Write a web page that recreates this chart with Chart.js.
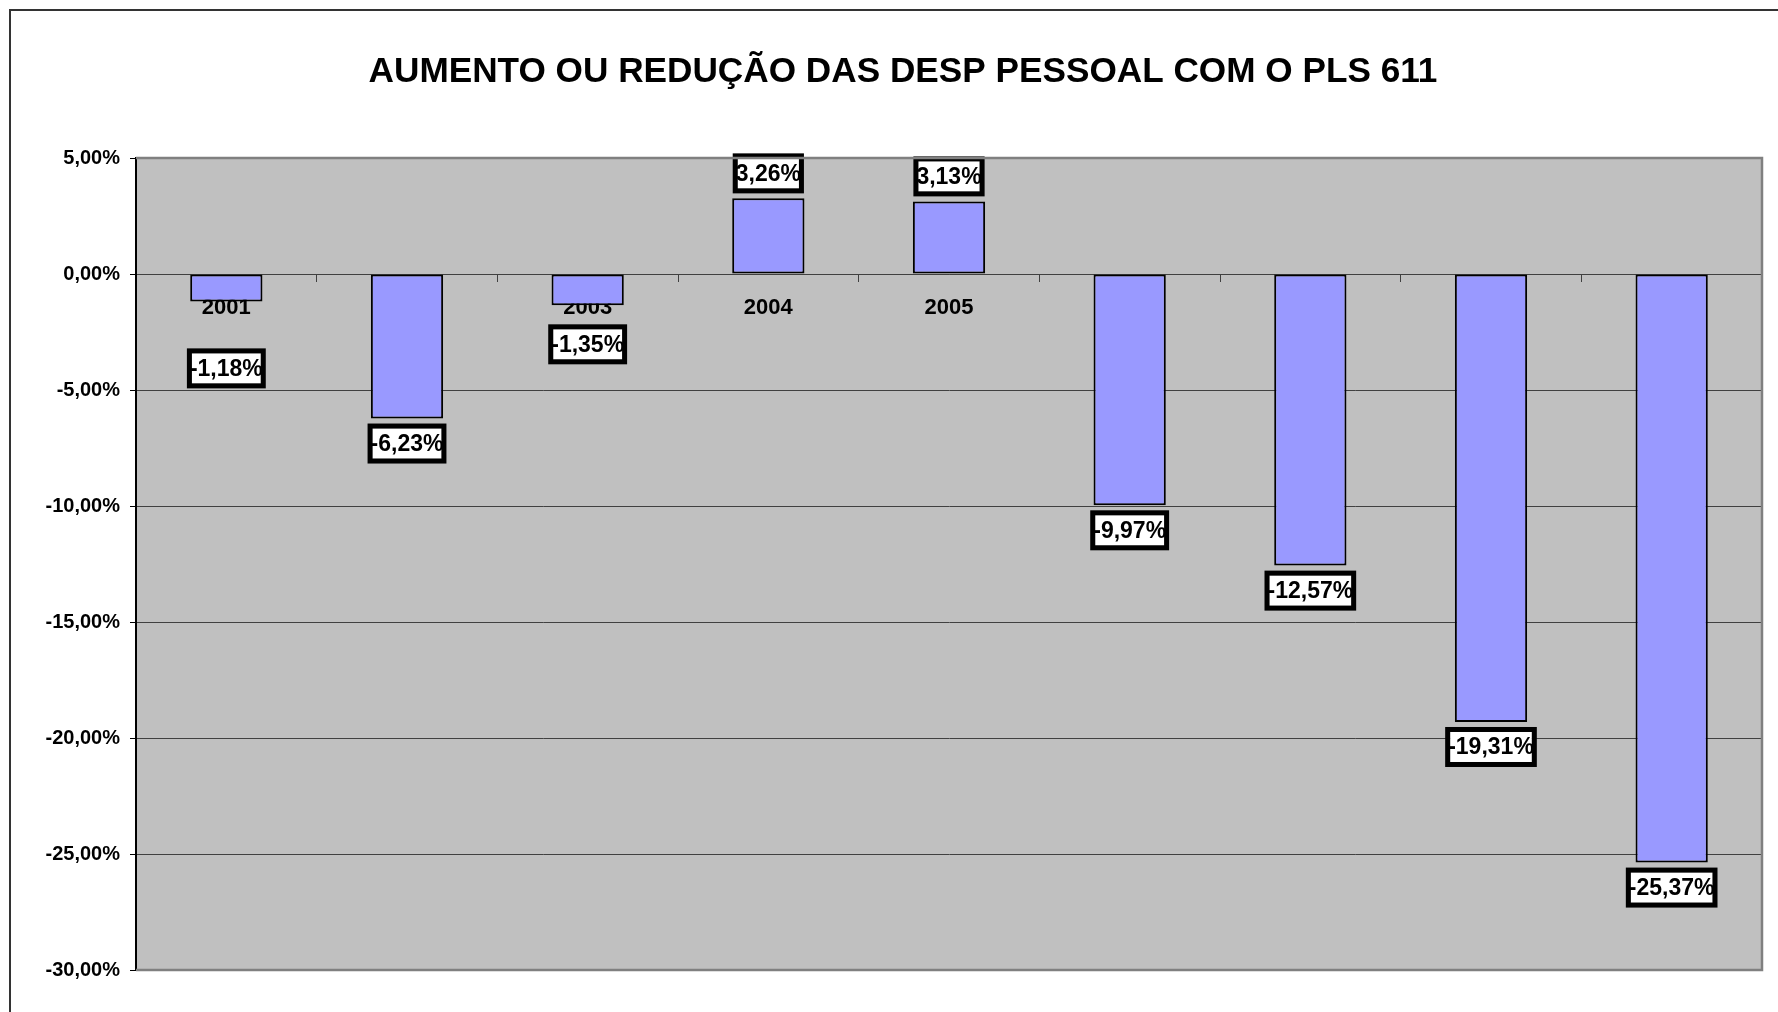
<!DOCTYPE html>
<html>
<head>
<meta charset="utf-8">
<script src="https://cdn.jsdelivr.net/npm/chart.js@4.4.1/dist/chart.umd.min.js"></script>
<style>
  html, body { margin: 0; padding: 0; background: #fff; }
</style>
</head>
<body>
<canvas id="barChart" width="1778" height="1012"></canvas>
<script>
const years = ["2001", "2002", "2003", "2004", "2005", "2006", "2007", "2008", "2009"];
const changes = [-1.18, -6.23, -1.35, 3.26, 3.13, -9.97, -12.57, -19.31, -25.37];
const yTicks = [5, 0, -5, -10, -15, -20, -25, -30];
const titleText = "AUMENTO OU REDUÇÃO DAS DESP PESSOAL COM O PLS 611";

const FONT = "'Liberation Sans', Arial, sans-serif";
const pct = v => v.toFixed(2).replace(".", ",") + "%";

// background, outer frame, plot frame and title
const framePlugin = {
  id: "frame",
  beforeDraw(chart) {
    const { ctx, chartArea: a } = chart;
    ctx.save();
    ctx.fillStyle = "#fff";
    ctx.fillRect(0, 0, chart.width, chart.height);
    ctx.strokeStyle = "#333";
    ctx.lineWidth = 2;
    ctx.strokeRect(10, 10, chart.width + 50, chart.height + 50);
    ctx.fillStyle = "#C0C0C0";
    ctx.fillRect(a.left, a.top, a.right - a.left, a.bottom - a.top);
    ctx.restore();
  },
  afterDraw(chart) {
    const { ctx, chartArea: a } = chart;
    ctx.save();
    ctx.strokeStyle = "#808080";
    ctx.lineWidth = 2.5;
    ctx.beginPath();
    ctx.moveTo(a.left, a.top);
    ctx.lineTo(a.right, a.top);
    ctx.lineTo(a.right, a.bottom);
    ctx.lineTo(a.left, a.bottom);
    ctx.stroke();
    ctx.fillStyle = "#000";
    ctx.font = "bold 35.2px " + FONT;
    ctx.textAlign = "center";
    ctx.textBaseline = "middle";
    ctx.fillText(titleText, 903, 72);
    ctx.restore();
  }
};

// boxed value labels at the end of each bar
const valueBoxes = {
  id: "valueBoxes",
  afterDatasetsDraw(chart, args, opts) {
    const { ctx } = chart;
    const meta = chart.getDatasetMeta(0);
    ctx.save();
    ctx.font = "bold 23px " + FONT;
    ctx.textAlign = "center";
    ctx.textBaseline = "middle";
    meta.data.forEach((bar, i) => {
      const v = chart.data.datasets[0].data[i];
      const txt = pct(v);
      const w = ctx.measureText(txt).width - 4;
      const h = 30;
      const nudge = (opts.nudge && opts.nudge[i]) || 0;
      const cy = v >= 0 ? bar.y - 25 : bar.y + 25 + nudge;
      const cx = bar.x;
      ctx.fillStyle = "#fff";
      ctx.fillRect(cx - w / 2, cy - h / 2, w, h);
      ctx.lineWidth = 5;
      ctx.strokeStyle = "#000";
      ctx.strokeRect(cx - w / 2 - 2.5, cy - h / 2 - 2.5, w + 5, h + 5);
      ctx.fillStyle = "#000";
      ctx.fillText(txt, cx, cy + 1);
    });
    ctx.restore();
  }
};

const barCtx = document.getElementById("barChart").getContext("2d");
new Chart(barCtx, {
  type: "bar",
  data: {
    labels: years,
    datasets: [{
      data: changes,
      backgroundColor: "#9999FF",
      borderColor: "#000",
      borderWidth: 2,
      borderSkipped: false,
      barPercentage: 0.40,
      categoryPercentage: 1.0
    }]
  },
  options: {
    responsive: false,
    maintainAspectRatio: false,
    animation: false,
    layout: {
      padding: { top: 158, left: 0, right: 16, bottom: 42 }
    },
    plugins: {
      legend: { display: false },
      tooltip: { enabled: false },
      title: { display: false },
      valueBoxes: { nudge: { 0: 42, 2: 14 } }
    },
    scales: {
      x: {
        position: { y: 0 },
        z: 1,
        offset: true,
        grid: {
          offset: true,
          drawOnChartArea: false,
          drawTicks: true,
          tickLength: 7,
          color: "#404040"
        },
        border: { display: true, color: "#404040", width: 1 },
        ticks: {
          color: "#000",
          padding: 14,
          font: { family: FONT, size: 22, weight: "bold" }
        }
      },
      y: {
        min: -30,
        max: 5,
        afterBuildTicks: s => { s.ticks = yTicks.map(v => ({ value: v })); },
        afterFit: s => { s.width = 136; },
        grid: { color: "#404040", lineWidth: 1, tickLength: 6, tickColor: "#000" },
        border: { color: "#000", width: 2 },
        ticks: {
          color: "#000",
          padding: 10,
          font: { family: FONT, size: 20, weight: "bold" },
          callback: v => pct(v)
        }
      }
    }
  },
  plugins: [framePlugin, valueBoxes]
});
</script>
</body>
</html>
